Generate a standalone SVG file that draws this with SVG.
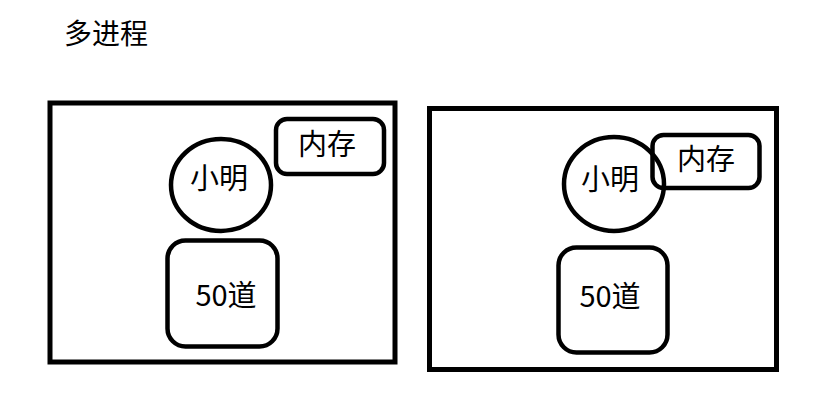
<svg xmlns="http://www.w3.org/2000/svg" width="825" height="420" viewBox="0 0 825 420">
<style>
.frame{fill:none;stroke:#000;stroke-width:5}
.node{fill:none;stroke:#000;stroke-width:4.5}
text{font-family:"Noto Sans CJK SC","Noto Sans",sans-serif;font-size:29px;fill:#000;text-anchor:middle}
</style>
<rect width="825" height="420" fill="#fff"/>
<text x="106" y="44" style="font-size:28px">多进程</text>
<g id="process1">
<rect class="frame" x="50" y="103" width="345" height="259"/>
</g>
<g id="memory1">
<rect class="node" x="276" y="119" width="108" height="55" rx="11"/>
<text x="327" y="155">内存</text>
</g>
<g id="xiaoming1">
<ellipse class="node" cx="221" cy="185" rx="50" ry="46"/>
<text x="219" y="189">小明</text>
</g>
<g id="task1">
<rect class="node" x="167.5" y="240.5" width="110" height="106" rx="18"/>
<text x="226" y="306">50道</text>
</g>
<g id="process2">
<rect class="frame" x="429.5" y="108.5" width="347" height="261"/>
</g>
<g id="xiaoming2">
<ellipse class="node" cx="614" cy="184" rx="50" ry="47"/>
<text x="610" y="190">小明</text>
</g>
<g id="memory2">
<rect class="node" x="652.5" y="135" width="107" height="53" rx="11"/>
<text x="706" y="170">内存</text>
</g>
<g id="task2">
<rect class="node" x="558.5" y="247.5" width="109" height="105" rx="18"/>
<text x="610" y="307">50道</text>
</g>
<g id="connectors"></g>
</svg>
